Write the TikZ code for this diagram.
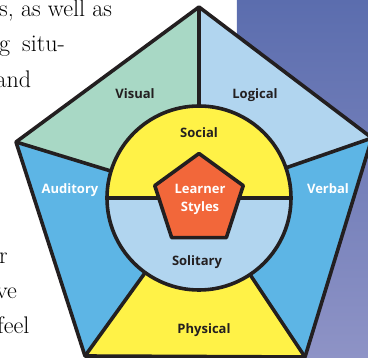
\documentclass[tikz,border=0pt]{standalone}
\usepackage{fontspec}
\setsansfont{Open Sans}
\usetikzlibrary{shapes.geometric}

\definecolor{mint}{HTML}{A8D8C5}
\definecolor{paleblue}{HTML}{B1D5EF}
\definecolor{midblue}{HTML}{5DB5E5}
\definecolor{sunyellow}{HTML}{FFF247}
\definecolor{redorange}{HTML}{F2673A}
\definecolor{ink}{HTML}{231F20}
\definecolor{slatetop}{HTML}{5B6DAE}
\definecolor{slatebot}{HTML}{8E93C6}

\begin{document}
\begin{tikzpicture}[x=1pt,y=-1pt,
  lbl/.style={font=\sffamily\bfseries\fontsize{13}{15}\selectfont, text=ink, inner sep=0pt, anchor=base},
  wlbl/.style={lbl, text=white},
  body/.style={font=\fontsize{24}{35}\selectfont, anchor=base west, inner sep=0pt},
  rim/.style={draw=ink, line width=3.6pt, line join=round}]
 \useasboundingbox (0,0) rectangle (368,358);
 \clip (0,0) rectangle (368,358);

 % page behind the figure
 \shade[top color=slatetop, bottom color=slatebot] (237,0) rectangle (368,358);
 \node[body] (t1) at (-1,17) {s, as well as};
 \node[body] (t2) at (-1,52) {g\hskip 12pt situ-};
 \node[body] (t3) at (-4.5,88) {and};
 \node[body] (t4) at (-1,264) {r};
 \node[body] (t5) at (-4,299) {ve};
 \node[body] (t6) at (-3,334) {feel};

 \coordinate (c) at (199,198);
 \coordinate (top) at (199,7);
 \coordinate (rt) at (372,138);
 \coordinate (br) at (305,357);
 \coordinate (bl) at (85,356);
 \coordinate (lt) at (16,142);

 \fill[mint] (lt) -- (top) -- (c) -- cycle;
 \fill[paleblue] (top) -- (rt) -- (c) -- cycle;
 \fill[midblue] (rt) -- (br) -- (c) -- cycle;
 \fill[sunyellow] (br) -- (bl) -- (c) -- cycle;
 \fill[midblue] (bl) -- (lt) -- (c) -- cycle;
 \foreach \v in {top,rt,br,bl,lt}
  \draw[rim] (\v) -- (c);

 % inner circle
 \fill[paleblue] (c) circle[radius=92];
 \begin{scope}
  \clip (100,0) rectangle (300,198);
  \fill[sunyellow] (c) circle[radius=92];
 \end{scope}
 \draw[rim] (c) circle[radius=92];
 \draw[rim] (c) +(-92,0) -- +(92,0);

 \draw[rim] (top) -- (rt) -- (br) -- (bl) -- (lt) -- cycle;

 \node[regular polygon, regular polygon sides=5, minimum size=93pt, inner sep=0pt,
   fill=redorange, rim] (learner) at (199,200) {};
 \node[wlbl, anchor=center, align=center, font=\sffamily\bfseries\fontsize{13}{18}\selectfont]
   (ltext) at (200,199) {Learner\\Styles};

 \node[lbl] (visual) at (135,99) {Visual};
 \node[lbl] (logical) at (255,99) {Logical};
 \node[lbl] (social) at (199,138) {Social};
 \node[wlbl] (auditory) at (70,194) {Auditory};
 \node[wlbl] (verbal) at (328,194) {Verbal};
 \node[lbl] (solitary) at (197,266) {Solitary};
 \node[lbl] (physical) at (204,334) {Physical};
\end{tikzpicture}
\end{document}
